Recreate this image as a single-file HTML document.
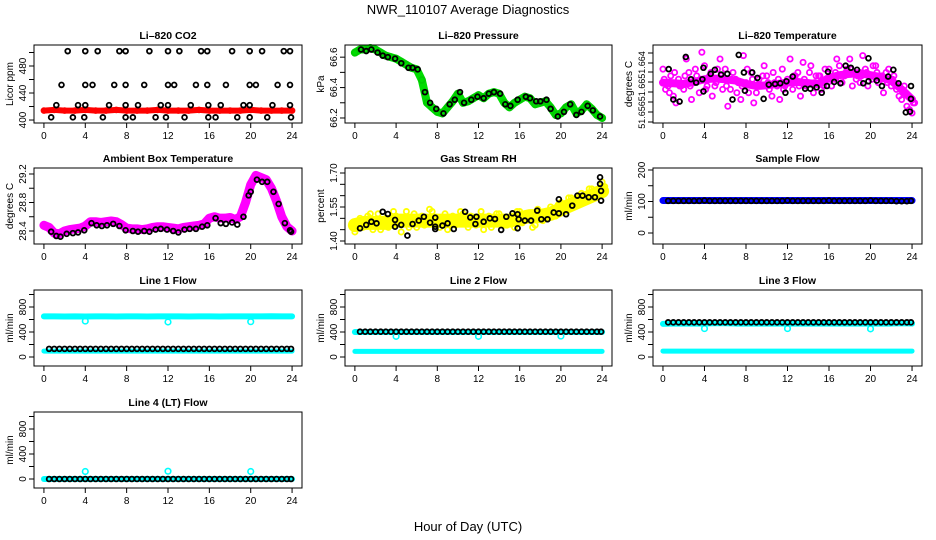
<!DOCTYPE html>
<html><head><meta charset="utf-8"><style>
html,body{margin:0;padding:0;background:#fff;}
svg{display:block;font-family:"Liberation Sans",Arial,sans-serif;}
</style></head><body>
<svg id="chart" width="936" height="540" viewBox="0 0 936 540" xmlns="http://www.w3.org/2000/svg">
<rect x="0" y="0" width="936" height="540" fill="#fff"/>
<text x="468" y="14" text-anchor="middle" font-size="13">NWR_110107  Average Diagnostics</text>
<text x="468" y="531" text-anchor="middle" font-size="13">Hour of Day (UTC)</text>
</svg>
<script>
// ---------- data ----------
const xTicks = [0,4,8,12,16,20,24];
const halfHours = [0.5,1,1.5,2,2.5,3,3.5,4,4.5,5,5.5,6,6.5,7,7.5,8,8.5,9,9.5,10,10.5,11,11.5,12,12.5,13,13.5,14,14.5,15,15.5,16,16.5,17,17.5,18,18.5,19,19.5,20,20.5,21,21.5,22,22.5,23,23.5,23.9];
const bandHours = [0,0.5,1,1.5,2,2.5,3,3.5,4,4.5,5,5.5,6,6.5,7,7.5,8,8.5,9,9.5,10,10.5,11,11.5,12,12.5,13,13.5,14,14.5,15,15.5,16,16.5,17,17.5,18,18.5,19,19.5,20,20.5,21,21.5,22,22.5,23,23.5,24];
const hourly = [0,1,2,3,4,5,6,7,8,9,10,11,12,13,14,15,16,17,18,19,20,21,22,23,24];
const dipHours = [4,12,20];

// CO2
const co2BlackHours = [2.3,4.0,5.2,7.3,7.9,10.2,12.0,13.1,15.2,15.8,18.2,19.9,21.1,23.2,23.8, 1.7,4.0,4.7,6.8,7.9,9.7,12.0,12.6,14.7,15.8,17.6,19.9,20.5,22.6,23.8, 1.2,3.3,4.0,6.3,7.9,9.1,11.3,12.0,14.2,15.9,17.1,19.3,19.9,22.1,23.8, 0.7,2.8,3.9,5.7,7.9,8.6,10.8,11.8,13.6,15.9,16.6,18.7,19.9,21.6,23.9];
const co2BlackVals = [502,502,502,502,502,502,502,502,502,502,502,502,502,502,502, 452,452,452,452,452,452,452,452,452,452,452,452,452,452,452, 422,422,422,422,422,422,422,422,422,422,422,422,422,422,422, 404,404,404,404,404,404,404,404,404,404,404,404,404,404,404];
const co2RedVals = [414,415,414,414,415,414,414,415,414,414,414,415,414,414,414,415,414,414,414,414,415,414,414,414,414];

// Pressure
const presGreenVals = [66.63,66.65,66.65,66.66,66.65,66.63,66.61,66.60,66.59,66.57,66.55,66.53,66.52,66.45,66.30,66.27,66.24,66.23,66.27,66.31,66.36,66.30,66.31,66.33,66.35,66.33,66.36,66.37,66.36,66.30,66.27,66.30,66.32,66.34,66.33,66.29,66.30,66.31,66.27,66.22,66.23,66.27,66.29,66.23,66.25,66.29,66.26,66.22,66.20];
const presBlackHours = [0.6,1.1,1.6,2.2,2.7,3.2,3.9,4.5,5.2,5.6,6.1,6.8,7.3,7.9,8.6,9.2,9.7,10.2,10.6,11.3,11.9,12.5,13.0,13.5,14.1,14.6,15.1,15.8,16.6,17.0,17.6,18.0,18.6,19.0,19.7,20.3,20.9,21.5,22.0,22.6,23.1,23.8];
const presBlackVals = [66.65,66.64,66.65,66.63,66.61,66.60,66.59,66.56,66.53,66.53,66.52,66.37,66.30,66.26,66.23,66.29,66.32,66.37,66.30,66.32,66.34,66.33,66.36,66.37,66.36,66.29,66.28,66.32,66.34,66.33,66.31,66.31,66.32,66.26,66.21,66.24,66.29,66.22,66.24,66.28,66.25,66.21];

// Li-820 temperature
const tempA = [51.6625,51.6600,51.6585,51.6610,51.6595,51.6620,51.6605,51.6590,51.6630,51.6615,51.6600,51.6640,51.6625,51.6595,51.6610,51.6580,51.6605,51.6620,51.6590,51.6600,51.6615,51.6585,51.6600,51.6625,51.6610,51.6595,51.6620,51.6635,51.6605,51.6590,51.6615,51.6600,51.6625,51.6610,51.6630,51.6615,51.6640,51.6620,51.6605,51.6625,51.6615,51.6630,51.6610,51.6620,51.6600,51.6595,51.6580,51.6570,51.6560];
const tempB = [51.6595,51.6615,51.6575,51.6600,51.6640,51.6580,51.6615,51.6650,51.6600,51.6585,51.6625,51.6595,51.6570,51.6620,51.6605,51.6645,51.6590,51.6575,51.6610,51.6630,51.6595,51.6605,51.6580,51.6600,51.6640,51.6615,51.6585,51.6600,51.6630,51.6615,51.6595,51.6610,51.6600,51.6640,51.6605,51.6625,51.6600,51.6615,51.6645,51.6600,51.6630,51.6605,51.6590,51.6625,51.6615,51.6585,51.6600,51.6565,51.6575];
const tempC = [51.6610,51.6590,51.6620,51.6600,51.6615,51.6600,51.6625,51.6610,51.6595,51.6620,51.6605,51.6615,51.6600,51.6610,51.6590,51.6600,51.6625,51.6610,51.6600,51.6615,51.6605,51.6620,51.6610,51.6595,51.6605,51.6615,51.6600,51.6610,51.6620,51.6605,51.6615,51.6625,51.6610,51.6620,51.6610,51.6620,51.6625,51.6610,51.6615,51.6620,51.6610,51.6620,51.6615,51.6605,51.6610,51.6600,51.6590,51.6585,51.6575];
const tempCentre = [51.6605,51.6604,51.6603,51.6606,51.6610,51.6611,51.6610,51.6608,51.6603,51.6600,51.6601,51.6603,51.6605,51.6606,51.6604,51.6603,51.6612,51.6616,51.6618,51.6619,51.6616,51.6613,51.6608,51.6595,51.6580];
const tempBlackHours = [0.55,1.0,1.6,2.2,2.7,3.2,3.8,3.9,3.9,4.6,5.0,5.6,6.2,6.7,7.3,7.8,7.9,8.6,9.1,9.7,10.2,10.8,11.3,11.8,11.9,12.5,13.7,14.2,14.8,15.3,15.8,15.9,16.5,17.1,17.6,18.1,18.7,19.3,19.8,19.8,20.6,21.1,21.7,22.2,22.7,23.4,23.8,23.9,23.9];
const tempBlackVals = [51.6625,51.658,51.6577,51.6643,51.661,51.6605,51.661,51.6627,51.6592,51.6618,51.6624,51.6617,51.6618,51.658,51.6646,51.662,51.6593,51.662,51.6612,51.6581,51.6602,51.6603,51.6604,51.659,51.6607,51.6614,51.6596,51.6596,51.6598,51.659,51.66,51.6621,51.6606,51.6604,51.663,51.6627,51.6624,51.6604,51.6641,51.6607,51.6608,51.66,51.6614,51.6624,51.6604,51.6561,51.6562,51.66,51.6581];

// Ambient box temperature
const ambVals = [28.48,28.45,28.37,28.36,28.40,28.42,28.43,28.44,28.47,28.53,28.53,28.52,28.53,28.54,28.53,28.49,28.44,28.43,28.43,28.42,28.43,28.45,28.46,28.46,28.45,28.44,28.43,28.45,28.46,28.47,28.48,28.50,28.58,28.60,28.58,28.58,28.59,28.56,28.60,28.80,29.05,29.18,29.15,29.12,29.00,28.82,28.60,28.46,28.40];
const ambBlackHours = [0.7,1.2,1.6,2.2,2.8,3.3,3.9,4.6,5.1,5.6,6.1,6.7,7.3,7.9,8.6,9.1,9.7,10.2,10.8,11.3,11.9,12.5,13.0,13.6,14.1,14.7,15.3,15.8,16.6,17.1,17.6,18.2,18.7,19.3,19.8,20.0,20.6,21.1,21.6,22.2,22.7,23.3,23.8,23.9];
const ambBlackVals = [28.39,28.33,28.32,28.36,28.37,28.38,28.41,28.51,28.48,28.47,28.48,28.50,28.47,28.41,28.40,28.39,28.40,28.39,28.42,28.43,28.42,28.40,28.38,28.42,28.43,28.43,28.46,28.48,28.58,28.51,28.50,28.52,28.49,28.60,28.90,28.95,29.12,29.09,29.09,28.95,28.78,28.51,28.41,28.39];

// Gas stream RH
const rhA = [1.44,1.50,1.47,1.52,1.48,1.45,1.50,1.47,1.51,1.44,1.53,1.49,1.46,1.51,1.48,1.53,1.47,1.50,1.45,1.51,1.48,1.52,1.46,1.50,1.49,1.45,1.51,1.48,1.52,1.47,1.50,1.46,1.53,1.49,1.51,1.47,1.52,1.50,1.55,1.51,1.57,1.54,1.59,1.56,1.61,1.58,1.63,1.60,1.66];
const rhB = [1.48,1.46,1.51,1.45,1.52,1.49,1.46,1.53,1.48,1.50,1.46,1.52,1.50,1.47,1.54,1.49,1.46,1.52,1.49,1.47,1.53,1.49,1.51,1.47,1.53,1.50,1.46,1.52,1.49,1.47,1.51,1.53,1.48,1.51,1.46,1.54,1.49,1.53,1.51,1.56,1.53,1.59,1.55,1.60,1.57,1.63,1.59,1.62,1.64];
const rhCentre = [1.47,1.48,1.48,1.48,1.49,1.49,1.49,1.49,1.49,1.49,1.49,1.49,1.49,1.49,1.49,1.49,1.50,1.51,1.51,1.52,1.54,1.56,1.58,1.60,1.62];
const rhBlackHours = [0.5,1.1,1.6,2.1,2.7,3.2,3.9,3.9,4.5,5.1,5.6,6.2,6.7,7.3,7.8,7.8,7.8,8.5,9.0,9.6,10.7,11.2,11.7,11.8,12.5,13.1,13.6,14.2,14.7,15.3,15.8,15.8,15.9,16.5,17.1,17.7,18.1,18.7,19.3,19.8,19.8,20.5,21.1,21.6,22.1,22.7,23.3,23.9,23.9,23.8,23.8];
const rhBlackVals = [1.456,1.471,1.485,1.478,1.529,1.519,1.493,1.463,1.471,1.424,1.475,1.490,1.507,1.481,1.503,1.453,1.463,1.468,1.478,1.453,1.529,1.504,1.475,1.507,1.485,1.500,1.497,1.449,1.507,1.522,1.518,1.456,1.496,1.490,1.490,1.534,1.496,1.496,1.526,1.522,1.584,1.518,1.556,1.600,1.600,1.593,1.593,1.578,1.621,1.652,1.681];

// Sample flow
const sampleBlueVals = [103,103,103,103,103,103,103,103,103,103,103,103,103,103,103,103,103,103,103,103,103,103,103,103,103];
const sampleBlackVals = [102,102,102,102,102,102,102,103,102,102,102,102,102,102,102,102,102,102,102,102,102,102,102,103,102,102,102,102,102,102,102,103,102,102,102,102,102,102,102,103,102,102,102,102,101,101,101,102];

// Line flows
const line1CyanHigh = [650,650,648,650,648,650,650,648,650,650,648,650,650,650,648,650,650,648,650,650,650,650,652,650,650];
const line1Dips = [575,560,565];
const line1CyanLow = [95,95,95,95,95,95,95,95,95,95,95,95,95,95,95,95,95,95,95,95,95,95,95,95,95];
const line1Black = [130,130,130,130,130,130,130,130,130,130,130,130,130,130,130,130,130,130,130,130,130,130,130,130,130,130,130,130,130,130,130,130,130,130,130,130,130,130,130,130,130,130,130,130,130,130,130,130];
const line2CyanHigh = [400,400,400,400,400,400,400,400,400,400,400,400,400,400,400,400,400,400,400,400,400,400,400,400,400];
const line2Dips = [330,330,335];
const line2CyanLow = [90,90,90,90,90,90,90,90,90,90,90,90,90,90,90,90,90,90,90,90,90,90,90,90,90];
const line2Black = [405,405,405,405,405,405,405,405,405,405,405,405,405,405,405,405,405,405,405,405,405,405,405,405,405,405,405,405,405,405,405,405,405,405,405,405,405,405,405,405,405,405,405,405,405,405,405,405];
const line3CyanHigh = [530,535,535,535,535,540,540,535,535,535,535,535,535,535,535,535,535,535,535,535,535,535,535,540,535];
const line3Dips = [455,455,450];
const line3CyanLow = [95,95,95,95,95,95,95,95,95,95,95,95,95,95,95,95,95,95,95,95,95,95,95,95,95];
const line3Black = [555,555,555,555,555,555,555,555,555,555,555,555,555,555,555,555,555,555,555,555,555,555,555,555,555,555,555,555,555,555,555,555,555,555,555,555,555,555,555,555,555,555,555,555,555,555,555,555];
const line4Cyan = [0,0,0,0,0,0,0,0,0,0,0,0,0,0,0,0,0,0,0,0,0,0,0,0,0];
const line4Dips = [120,125,120];
const line4Black = [0,0,0,0,0,0,0,0,0,0,0,0,0,0,0,0,0,0,0,0,0,0,0,0,0,0,0,0,0,0,0,0,0,0,0,0,0,0,0,0,0,0,0,0,0,0,0,0];

// ---------- drawing ----------
const NS = 'http://www.w3.org/2000/svg';
const svg = document.getElementById('chart');
function mk(tag, parent){ const e = document.createElementNS(NS, tag); parent.appendChild(e); return e; }

function panel(cfg){
  const g = mk('g', svg);
  
  
  const L = cfg.box[0], R = cfg.box[1], T = cfg.box[2], B = cfg.box[3];
  const sx = h => L + (h + 0.96) / 25.92 * (R - L);
  const sy = v => B - (v - cfg.ymin) / (cfg.ymax - cfg.ymin) * (B - T);
  const t = mk('text', g);
  
  
  t.setAttribute('x', (L + R) / 2); t.setAttribute('y', T - 6);
  t.setAttribute('text-anchor', 'middle'); t.setAttribute('font-size', '10.5'); t.setAttribute('font-weight', 'bold');
  t.textContent = cfg.title;
  const plot = mk('g', g);
  
  
  cfg.draw(plot, sx, sy);
  const box = mk('rect', g);
  
  
  box.setAttribute('x', L); box.setAttribute('y', T); box.setAttribute('width', R - L); box.setAttribute('height', B - T);
  box.setAttribute('fill', 'none'); box.setAttribute('stroke', '#000'); box.setAttribute('stroke-width', '1');
  const xa = mk('g', g);
  
  
  xTicks.forEach(h => {
    const l = mk('line', xa);
    l.setAttribute('x1', sx(h)); l.setAttribute('x2', sx(h)); l.setAttribute('y1', B); l.setAttribute('y2', B + 5); l.setAttribute('stroke', '#000');
    const tx = mk('text', xa);
    
    
    tx.setAttribute('x', sx(h)); tx.setAttribute('y', B + 16); tx.setAttribute('text-anchor', 'middle'); tx.setAttribute('font-size', '10');
    tx.textContent = h;
  });
  const ya = mk('g', g);
  
  
  const tickYs = cfg.tickPx ? cfg.tickPx : cfg.yticks.map(sy);
  tickYs.forEach(y => {
    const l = mk('line', ya);
    l.setAttribute('x1', L - 5); l.setAttribute('x2', L); l.setAttribute('y1', y); l.setAttribute('y2', y); l.setAttribute('stroke', '#000');
  });
  const labelYs = cfg.labelPx ? cfg.labelPx : cfg.ylabels.map(sy);
  labelYs.forEach((y, i) => {
    const tx = mk('text', ya);
    
    
    const x = L - 8;
    tx.setAttribute('x', x); tx.setAttribute('y', y); tx.setAttribute('text-anchor', 'middle'); tx.setAttribute('font-size', cfg.labelSize || '10');
    tx.setAttribute('transform', 'rotate(-90 ' + x + ' ' + y + ')');
    tx.textContent = cfg.ylabelText[i];
  });
  const yt = mk('text', g);
  
  
  const ytx = L - 21, yty = (T + B) / 2;
  yt.setAttribute('x', ytx); yt.setAttribute('y', yty); yt.setAttribute('text-anchor', 'middle'); yt.setAttribute('font-size', '10');
  yt.setAttribute('transform', 'rotate(-90 ' + ytx + ' ' + yty + ')');
  yt.textContent = cfg.ylab;
}

function pts(parent, hours, vals, sx, sy, color, name, r, sw){
  const g = mk('g', parent);
  
  
  hours.forEach((h, i) => {
    const c = mk('circle', g);
    c.setAttribute('cx', sx(h)); c.setAttribute('cy', sy(vals[i])); c.setAttribute('r', r || 2.4);
    c.setAttribute('fill', 'none'); c.setAttribute('stroke', color); c.setAttribute('stroke-width', sw || 1.8);
  });
}
function band(parent, hours, vals, sx, sy, color, width, name){
  const p = mk('polyline', parent);
  
  
  p.setAttribute('points', hours.map((h, i) => sx(h) + ',' + sy(vals[i])).join(' '));
  p.setAttribute('fill', 'none'); p.setAttribute('stroke', color); p.setAttribute('stroke-width', width);
  p.setAttribute('stroke-linejoin', 'round'); p.setAttribute('stroke-linecap', 'round');
}
const C1 = [34, 302], C2 = [345, 612], C3 = [653, 922];
const R1 = [45, 123], R2 = [168, 244], R3 = [290, 366], R4 = [412, 488];
const flowTicks = [0,200,400,600,800,1000];

panel({name:'co2', title:'Li\u2013820 CO2', box:[...C1, ...R1], ymin:395.6, ymax:511.1, ylab:'Licor ppm',
  yticks:[400,420,440,460,480,500], ylabels:[400,440,480], ylabelText:['400','440','480'],
  draw:(p, sx, sy) => {
    band(p, hourly, co2RedVals, sx, sy, '#ff0000', 6, 'co2-red-series');
    pts(p, hourly, co2RedVals, sx, sy, '#ff0000', 'co2-red-points');
    pts(p, co2BlackHours, co2BlackVals, sx, sy, '#000', 'co2-black-points');
  }});
panel({name:'pressure', title:'Li\u2013820 Pressure', box:[...C2, ...R1], ymin:66.167, ymax:66.68, ylab:'kPa',
  yticks:[66.2,66.3,66.4,66.5,66.6], ylabels:[66.2,66.4,66.6], ylabelText:['66.2','66.4','66.6'],
  draw:(p, sx, sy) => {
    band(p, bandHours, presGreenVals, sx, sy, '#00dd00', 8, 'pressure-green-series');
    pts(p, bandHours, presGreenVals, sx, sy, '#00cc00', 'pressure-green-points', 3);
    pts(p, presBlackHours, presBlackVals, sx, sy, '#000', 'pressure-black-points');
  }});
panel({name:'li820-temp', title:'Li\u2013820 Temperature', box:[...C3, ...R1], ymin:51.65452, ymax:51.66607, ylab:'degrees C',
  tickPx:[53,63,72,82,92,102,112,122], labelPx:[115,90,65], labelSize:'9',
  ylabelText:['51.656','51.66','51.664'],
  draw:(p, sx, sy) => {
    band(p, hourly, tempCentre, sx, sy, '#ff00ff', 8, 'temp-magenta-band');
    pts(p, bandHours, tempA, sx, sy, '#ff00ff', 'temp-magenta-points-a', 2.6, 1.8);
    pts(p, bandHours.map(h => h + 0.25), tempB, sx, sy, '#ff00ff', 'temp-magenta-points-b', 2.6, 1.8);
    pts(p, bandHours.map(h => h + 0.12), tempC, sx, sy, '#ff00ff', 'temp-magenta-points-c', 2.6, 1.8);
    pts(p, tempBlackHours, tempBlackVals, sx, sy, '#000', 'temp-black-points');
  }});
panel({name:'ambient-temp', title:'Ambient Box Temperature', box:[...C1, ...R2], ymin:28.2175, ymax:29.284, ylab:'degrees C',
  yticks:[28.4,28.6,28.8,29.0,29.2], ylabels:[28.4,28.8,29.2], ylabelText:['28.4','28.8','29.2'],
  draw:(p, sx, sy) => {
    band(p, bandHours, ambVals, sx, sy, '#ff00ff', 9, 'ambient-magenta-series');
    pts(p, bandHours, ambVals, sx, sy, '#ff00ff', 'ambient-magenta-points', 3);
    pts(p, ambBlackHours, ambBlackVals, sx, sy, '#000', 'ambient-black-points');
  }});
panel({name:'gas-rh', title:'Gas Stream RH', box:[...C2, ...R2], ymin:1.3868, ymax:1.722, ylab:'percent',
  yticks:[1.40,1.45,1.50,1.55,1.60,1.65,1.70], ylabels:[1.40,1.55,1.70], ylabelText:['1.40','1.55','1.70'],
  draw:(p, sx, sy) => {
    band(p, hourly, rhCentre, sx, sy, '#ffff00', 14, 'rh-yellow-band');
    pts(p, bandHours, rhA, sx, sy, '#ffff00', 'rh-yellow-points-a', 2.6, 1.8);
    pts(p, bandHours.map(h => h + 0.25), rhB, sx, sy, '#ffff00', 'rh-yellow-points-b', 2.6, 1.8);
    pts(p, rhBlackHours, rhBlackVals, sx, sy, '#000', 'rh-black-points');
  }});
panel({name:'sample-flow', title:'Sample Flow', box:[...C3, ...R2], ymin:-34.9, ymax:206.3, ylab:'ml/min',
  yticks:[0,50,100,150,200], ylabels:[0,100,200], ylabelText:['0','100','200'],
  draw:(p, sx, sy) => {
    band(p, hourly, sampleBlueVals, sx, sy, '#0000ff', 7, 'sample-blue-series');
    pts(p, halfHours, sampleBlackVals, sx, sy, '#000', 'sample-black-points');
  }});
function flowPanel(name, title, col, row, high, dips, low, black){
  panel({name:name, title:title, box:[...col, ...row], ymin:-144, ymax:1072, ylab:'ml/min',
    yticks:flowTicks, ylabels:[0,400,800], ylabelText:['0','400','800'],
    draw:(p, sx, sy) => {
      if (low) { band(p, hourly, low, sx, sy, '#00ffff', 5, name + '-cyan-low'); }
      band(p, hourly, high, sx, sy, '#00ffff', 6, name + '-cyan-high');
      pts(p, dipHours, dips, sx, sy, '#00ffff', name + '-cyan-dips', 2.8, 1.6);
      pts(p, halfHours, black, sx, sy, '#000', name + '-black-points');
    }});
}
flowPanel('line1-flow', 'Line 1 Flow', C1, R3, line1CyanHigh, line1Dips, line1CyanLow, line1Black);
flowPanel('line2-flow', 'Line 2 Flow', C2, R3, line2CyanHigh, line2Dips, line2CyanLow, line2Black);
flowPanel('line3-flow', 'Line 3 Flow', C3, R3, line3CyanHigh, line3Dips, line3CyanLow, line3Black);
flowPanel('line4-flow', 'Line 4 (LT) Flow', C1, R4, line4Cyan, line4Dips, null, line4Black);
</script>
</body></html>
